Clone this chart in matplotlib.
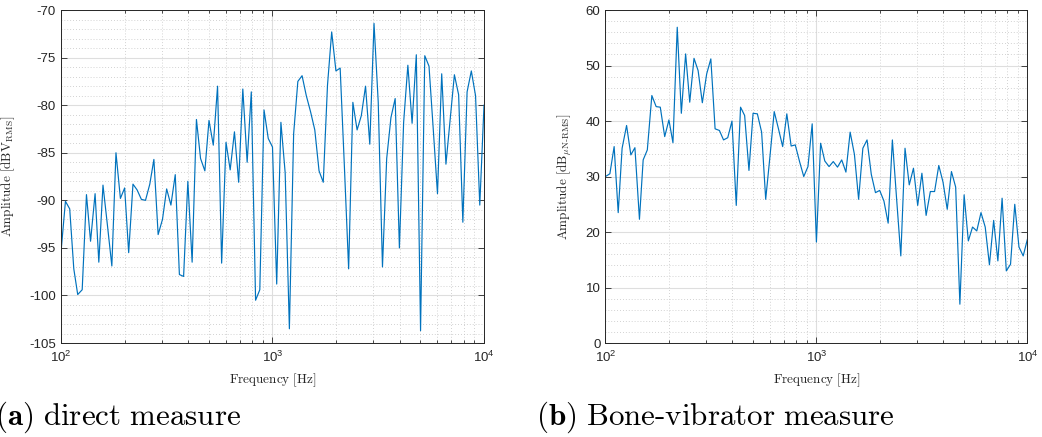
import numpy as np
import matplotlib
matplotlib.use('Agg')
import matplotlib.pyplot as plt
from matplotlib.ticker import MultipleLocator, LogLocator, NullFormatter

plt.rcParams['font.family'] = ['Liberation Sans', 'DejaVu Sans']
plt.rcParams['mathtext.fontset'] = 'custom'
plt.rcParams['mathtext.rm'] = 'Liberation Sans'
plt.rcParams['mathtext.it'] = 'Liberation Sans:italic'
plt.rcParams['axes.unicode_minus'] = False

# frequency grid [Hz], 50 points per decade
freq = [100, 105, 110, 115, 120, 126, 132, 138, 145, 151, 158, 166, 174, 182, 191,
        200, 209, 219, 229, 240, 251, 263, 275, 288, 302, 316, 331, 347, 363, 380,
        398, 417, 437, 457, 479, 501, 525, 550, 575, 603, 631, 661, 692, 724, 759,
        794, 832, 871, 912, 955, 1000,
        1047, 1096, 1148, 1202, 1259, 1318, 1380, 1445, 1514, 1585, 1660, 1738, 1820,
        1905, 1995, 2089, 2188, 2291, 2399, 2512, 2630, 2754, 2884, 3020, 3162, 3311,
        3467, 3631, 3802, 3981, 4169, 4365, 4571, 4786, 5012, 5248, 5495, 5754, 6026,
        6310, 6607, 6918, 7244, 7586, 7943, 8318, 8710, 9120, 9550, 10000]

# (a) direct measure [dBV_RMS]
direct = [-95.5, -90.1, -90.9, -97.2, -99.9, -99.4, -89.4, -94.3, -89.3, -96.5,
          -88.4, -92.7, -96.9, -85.0, -89.8, -88.7, -95.5, -88.3, -88.9, -89.9,
          -90.0, -88.3, -85.7, -93.6, -92.0, -88.8, -90.5, -87.3, -97.8, -98.0,
          -88.0, -96.5, -81.5, -85.6, -86.9, -81.6, -84.2, -78.0, -96.6, -83.9,
          -86.8, -82.8, -88.1, -78.3, -86.0, -78.6, -100.5, -99.4, -80.5, -83.5,
          -84.4, -98.8, -81.8, -87.1, -103.5, -83.0, -77.5, -76.9, -79.0, -80.7,
          -82.6, -86.9, -88.1, -77.9, -72.3, -76.4, -76.1, -86.5, -97.2, -79.7,
          -82.6, -81.1, -78.0, -84.1, -71.4, -79.7, -97.0, -85.6, -81.3, -79.3,
          -95.0, -81.8, -75.8, -81.9, -74.7, -103.7, -74.8, -75.9, -82.5, -89.3,
          -76.7, -86.2, -81.5, -76.8, -78.9, -92.3, -78.6, -76.4, -79.0, -90.5, -80.0]

# (b) bone-vibrator measure [dB_uN-RMS]
bone = [30.0, 30.5, 35.4, 23.5, 35.1, 39.2, 33.9, 35.2, 22.3, 33.0,
        34.8, 44.6, 42.6, 42.5, 37.2, 40.2, 36.1, 56.9, 41.4, 52.1,
        43.4, 51.3, 49.1, 43.3, 48.5, 51.2, 38.6, 38.3, 36.6, 37.0,
        40.0, 24.8, 42.5, 41.0, 31.1, 41.4, 41.3, 38.0, 25.9, 33.8,
        41.7, 38.6, 35.4, 41.3, 35.5, 35.7, 32.7, 30.0, 31.8, 39.5,
        18.2, 36.0, 32.8, 31.8, 32.7, 31.7, 33.0, 30.8, 38.0, 34.0,
        25.9, 35.1, 36.6, 30.4, 27.1, 27.5, 25.6, 21.6, 36.6, 26.0,
        15.7, 35.1, 28.5, 31.5, 24.8, 30.6, 23.0, 27.3, 27.3, 32.0,
        29.0, 24.1, 30.9, 28.1, 7.0, 26.7, 18.4, 20.9, 20.2, 23.5,
        20.9, 14.1, 22.1, 14.8, 26.1, 13.0, 14.2, 25.0, 17.3, 15.7, 18.7]

ylabels = [r'$\mathrm{Amplitude\ [dBV_{RMS}]}$',
           r'$\mathrm{Amplitude\ [dB_{\mu N\text{-}RMS}]}$']
captions = [r'$\mathbf{(a)}\ \mathrm{direct\ measure}$',
            r'$\mathbf{(b)}\ \mathrm{Bone\text{-}vibrator\ measure}$']

mcol = '#0072BD'
fig = plt.figure(figsize=(10.42, 4.37), dpi=100)
ax1 = fig.add_axes([0.0585, 0.215, 0.406, 0.762])
ax2 = fig.add_axes([0.581, 0.215, 0.405, 0.762])


def style_ax(ax, ylim, ymaj, ymin):
    ax.set_xscale('log')
    ax.set_xlim(100, 10000)
    ax.set_ylim(*ylim)
    ax.yaxis.set_major_locator(MultipleLocator(ymaj))
    ax.yaxis.set_minor_locator(MultipleLocator(ymin))
    ax.xaxis.set_minor_locator(LogLocator(base=10, subs=np.arange(2, 10)))
    ax.xaxis.set_minor_formatter(NullFormatter())
    ax.grid(True, which='major', color='#dedede', lw=0.8, ls='-')
    ax.grid(True, which='minor', color='#c4c4c4', lw=0.6, ls=(0, (1, 2.5)))
    ax.set_axisbelow(True)
    ax.tick_params(which='both', direction='in', top=True, right=True,
                   color='#262626', labelsize=9.5, labelcolor='#262626', width=0.6)
    ax.tick_params(which='major', length=4.5)
    ax.tick_params(axis='x', which='minor', length=2.5)
    ax.tick_params(axis='y', which='minor', length=0)
    ax.tick_params(axis='x', pad=5)
    for s in ax.spines.values():
        s.set_color('#262626')
        s.set_linewidth(0.7)


ax1.plot(freq, direct, color=mcol, lw=0.85)
style_ax(ax1, (-105, -70), 5, 1)
ax2.plot(freq, bone, color=mcol, lw=0.85)
style_ax(ax2, (0, 60), 10, 2)

for ax, yl in zip([ax1, ax2], ylabels):
    ax.set_xlabel(r'$\mathrm{Frequency\ [Hz]}$', math_fontfamily='cm', fontsize=9.5,
                  color='#262626')
    ax.xaxis.set_label_coords(0.5, -0.085)
    ax.set_ylabel(yl, math_fontfamily='cm', fontsize=9.5, color='#262626')

ax1.yaxis.set_label_coords(-0.105, 0.5)
ax2.yaxis.set_label_coords(-0.075, 0.5)

fig.text(-0.005, 0.028, captions[0], math_fontfamily='cm', fontsize=22.3, ha='left')
fig.text(0.514, 0.028, captions[1], math_fontfamily='cm', fontsize=22.3, ha='left')

fig.savefig('out.png', dpi=100)
